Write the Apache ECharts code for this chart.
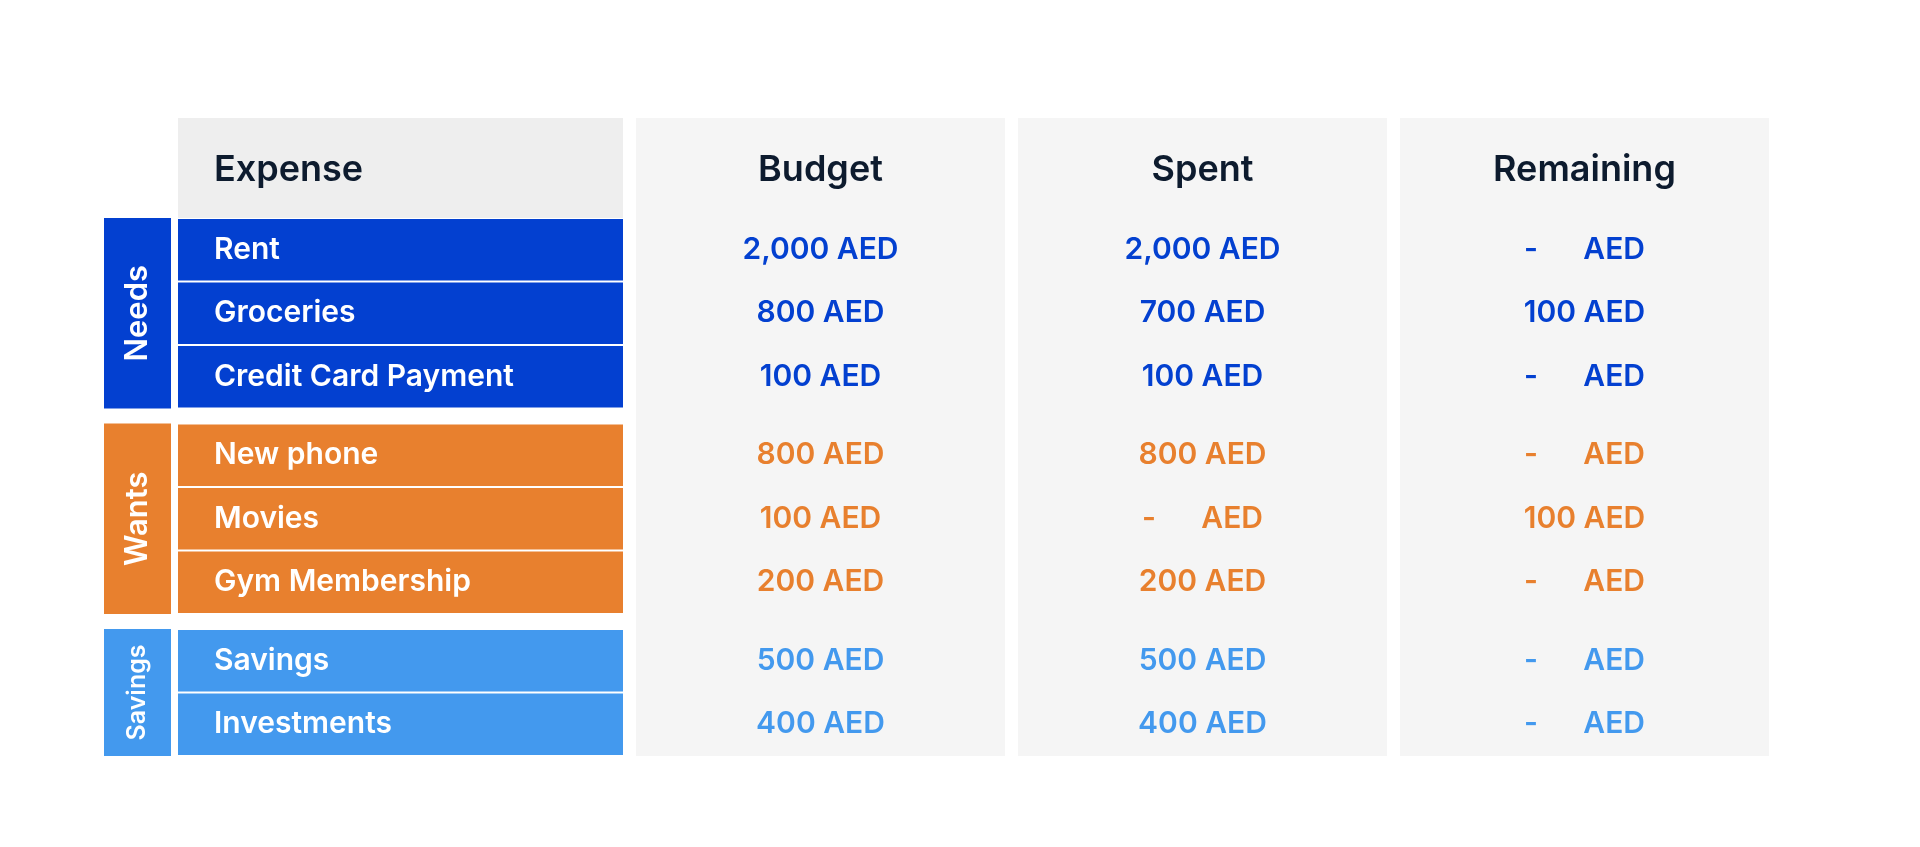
<!DOCTYPE html>
<html>
<head>
<meta charset="utf-8">
<script src="https://cdn.jsdelivr.net/npm/echarts@6/dist/echarts.min.js"></script>
<style>html,body{margin:0;padding:0;background:#fff}#chart{width:1920px;height:847px}</style>
</head>
<body>
<div id="chart"></div>
<script>
// --- data ---
const headers = ['Expense', 'Budget', 'Spent', 'Remaining'];
const groups = ['Needs', 'Wants', 'Savings'];
const groupColors = ['#0340d0', '#e8802e', '#4399ee'];
const expenses = ['Rent', 'Groceries', 'Credit Card Payment', 'New phone', 'Movies', 'Gym Membership', 'Savings', 'Investments'];
const rowGroup = [0, 0, 0, 1, 1, 1, 2, 2];
const budget = [2000, 800, 100, 800, 100, 200, 500, 400];
const spent = [2000, 700, 100, 800, 0, 200, 500, 400];
const remaining = [0, 100, 0, 0, 100, 0, 0, 0];

// --- layout (pixels) ---
const FONT = 'Inter, "Noto Sans", sans-serif';
const colX = [[178, 623], [636, 1005], [1018, 1387], [1400, 1769]];
const groupX = [104, 171];
const headTop = 118, headBottom = 218, rowH = 63.5, groupGap = 15;

const fmt = v => v === 0 ? '-      AED' : v.toLocaleString('en-US') + ' AED';
const rowTop = i => headBottom + i * rowH + rowGroup[i] * groupGap;

const chart = echarts.init(document.getElementById('chart'));

function renderRow(params, api) {
  const i = api.value(0);
  const g = rowGroup[i];
  const [, y0] = api.coord([0, rowTop(i)]);
  const [, y1] = api.coord([0, rowTop(i) + rowH]);
  const color = groupColors[g];
  const cy = (y0 + y1) / 2;
  const children = [{
    type: 'rect',
    shape: { x: colX[0][0], y: y0 + 1, width: colX[0][1] - colX[0][0], height: y1 - y0 - 2 },
    style: { fill: color }
  }, {
    type: 'text',
    style: { x: colX[0][0] + 36, y: cy, text: expenses[i], fill: '#fff', font: '600 30px ' + FONT, verticalAlign: 'middle' }
  }];
  [budget, spent, remaining].forEach((arr, k) => {
    const c = colX[k + 1];
    children.push({
      type: 'text',
      style: { x: (c[0] + c[1]) / 2, y: cy, text: fmt(arr[i]), fill: color, font: '600 30px ' + FONT, align: 'center', verticalAlign: 'middle' }
    });
  });
  return { type: 'group', children };
}

function renderBack(params, api) {
  const children = [];
  const bottom = rowTop(expenses.length - 1) + rowH;
  colX.forEach((c, k) => {
    children.push({
      type: 'rect',
      shape: { x: c[0], y: headTop, width: c[1] - c[0], height: k === 0 ? headBottom - headTop : bottom - headTop },
      style: { fill: k === 0 ? '#eeeeee' : '#f5f5f5' }
    });
    children.push({
      type: 'text',
      style: { x: k === 0 ? c[0] + 36 : (c[0] + c[1]) / 2, y: (headTop + headBottom) / 2 + 2, text: headers[k], fill: '#0d1b2e',
        font: '600 36px ' + FONT, align: k === 0 ? 'left' : 'center', verticalAlign: 'middle' }
    });
  });
  groups.forEach((name, g) => {
    const rows = rowGroup.map((v, i) => v === g ? i : -1).filter(i => i >= 0);
    const top = rowTop(rows[0]), bot = rowTop(rows[rows.length - 1]) + rowH;
    children.push({
      type: 'rect',
      shape: { x: groupX[0], y: top, width: groupX[1] - groupX[0], height: bot - top },
      style: { fill: groupColors[g] }
    });
    children.push({
      type: 'text',
      x: (groupX[0] + groupX[1]) / 2, y: (top + bot) / 2, rotation: Math.PI / 2,
      style: { x: 0, y: 0, text: name, fill: '#fff', font: '600 ' + (rows.length < 3 ? 25 : 31) + 'px ' + FONT, align: 'center', verticalAlign: 'middle' }
    });
  });
  return { type: 'group', children };
}

chart.setOption({
  animation: false,
  grid: { left: 0, right: 0, top: 0, bottom: 0 },
  xAxis: { type: 'value', min: 0, max: 1920, show: false },
  yAxis: { type: 'value', min: 0, max: 847, inverse: true, show: false },
  series: [
    { type: 'custom', renderItem: renderBack, data: [[0]], silent: true },
    { type: 'custom', renderItem: renderRow, data: expenses.map((e, i) => [i]), silent: true }
  ]
});
</script>
</body>
</html>
